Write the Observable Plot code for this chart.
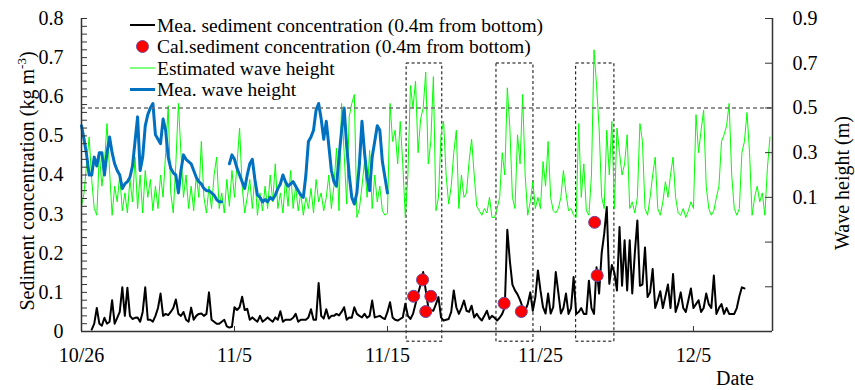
<!DOCTYPE html>
<html>
<head>
<meta charset="utf-8">
<script src="https://cdn.jsdelivr.net/npm/d3@7"></script>
<script src="https://cdn.jsdelivr.net/npm/@observablehq/plot@0.6"></script>
<style>
  body { margin: 0; background: #fff; }
</style>
</head>
<body>
<div id="chart"></div>
<script>
// ---- Data -------------------------------------------------------------
// Regular 4-hour records.
const stepHours = 4;

// Estimated wave height (m), from 10/26 00:00.
const estWaveStart = "2010-10-26T00:00Z";
const estWave = [
  0.06, 0.12, 0.25, 0.37, 0.18, 0.05,
  0.02, 0.30, 0.15, 0.25, 0.43, 0.22,
  0.02, 0.15, 0.08, 0.20, 0.04, 0.12,
  0.03, 0.18, 0.08, 0.28, 0.05, 0.20,
  0.03, 0.22, 0.10, 0.18, 0.04, 0.15,
  0.05, 0.20, 0.10, 0.30, 0.51, 0.12,
  0.03, 0.25, 0.52, 0.30, 0.10, 0.20,
  0.05, 0.15, 0.04, 0.20, 0.10, 0.35,
  0.10, 0.03, 0.15, 0.05, 0.20, 0.28,
  0.05, 0.12, 0.03, 0.18, 0.06, 0.22,
  0.10, 0.25, 0.41, 0.15, 0.03, 0.10,
  0.18, 0.05, 0.20, 0.02, 0.12, 0.04,
  0.15, 0.05, 0.20, 0.08, 0.25, 0.05,
  0.12, 0.03, 0.18, 0.06, 0.22, 0.05,
  0.15, 0.04, 0.12, 0.02, 0.10, 0.05,
  0.14, 0.03, 0.18, 0.08, 0.12, 0.04,
  0.10, 0.20, 0.05, 0.15, 0.32, 0.04,
  0.52, 0.30, 0.07, 0.46, 0.52, 0.56,
  0.01, 0.05, 0.15, 0.26, 0.10, 0.31,
  0.05, 0.20, 0.08, 0.15, 0.04, 0.02,
  0.03, 0.52, 0.35, 0.40, 0.25, 0.44,
  0.25, 0.01, 0.20, 0.60, 0.50, 0.62,
  0.30, 0.45, 0.50, 0.66, 0.25, 0.35,
  0.64, 0.04, 0.10, 0.38, 0.44, 0.20,
  0.07, 0.15, 0.30, 0.40, 0.05, 0.20,
  0.10, 0.12, 0.26, 0.36, 0.20, 0.06,
  0.04, 0.02, 0.05, 0.03, 0.10, 0.01,
  0.01, 0.05, 0.10, 0.30, 0.20, 0.59,
  0.41, 0.10, 0.05, 0.38, 0.25, 0.56,
  0.20, 0.02, 0.08, 0.17, 0.05, 0.10,
  0.05, 0.26, 0.15, 0.35, 0.10, 0.04,
  0.03, 0.05, 0.10, 0.22, 0.12, 0.04,
  0.05, 0.02, 0.01, 0.43, 0.10, 0.25,
  0.04, 0.02, 0.20, 0.76, 0.60, 0.41,
  0.10, 0.05, 0.40, 0.20, 0.44, 0.05,
  0.41, 0.30, 0.20, 0.25, 0.38, 0.05,
  0.08, 0.03, 0.10, 0.43, 0.35, 0.05,
  0.02, 0.10, 0.20, 0.28, 0.05, 0.02,
  0.08, 0.17, 0.10, 0.20, 0.28, 0.10,
  0.03, 0.02, 0.05, 0.01, 0.04, 0.08,
  0.05, 0.47, 0.30, 0.40, 0.49, 0.15,
  0.05, 0.02, 0.04, 0.10, 0.15, 0.35,
  0.38, 0.42, 0.52, 0.20, 0.05, 0.02,
  0.05, 0.30, 0.35, 0.48, 0.30, 0.02,
  0.10, 0.15, 0.08, 0.12, 0.02, 0.23,
  0.37
];

// Measured wave height (m), from 10/26 00:00; null = no record.
const meaWaveStart = "2010-10-26T00:00Z";
const meaWave = [
  0.42, 0.36, 0.29, 0.20, 0.20, 0.28,
  0.24, 0.30, 0.30, 0.20, 0.30, 0.37,
  0.30, 0.25, 0.22, 0.20, 0.14, 0.16,
  0.17, 0.19, 0.24, 0.35, 0.46, 0.22,
  0.28, 0.42, 0.47, 0.50, 0.52, 0.38,
  0.36, 0.34, 0.45, 0.40, 0.28, 0.23,
  0.21, 0.20, 0.12, 0.22, 0.29, 0.27,
  0.26, 0.25, 0.22, 0.19, 0.17, 0.16,
  0.14, 0.13, 0.13, 0.12, 0.11, 0.09,
  0.08, 0.08, null, null, 0.25, 0.29,
  0.27, 0.23, 0.20, 0.17, 0.14, 0.20,
  0.25, 0.27, 0.18, 0.11, 0.10, 0.08,
  0.09, 0.08, 0.10, 0.09, 0.11, 0.14,
  0.16, 0.20, 0.17, 0.15, 0.16, 0.17,
  0.15, 0.13, 0.11, 0.10, 0.20, 0.35,
  0.37, 0.40, 0.49, 0.52, 0.45, 0.36,
  0.44, 0.33, 0.22, 0.17, 0.15, 0.28,
  0.40, 0.50, 0.33, 0.20, 0.10, 0.07,
  0.12, 0.25, 0.44, 0.30, 0.19, 0.13,
  0.28, 0.35, 0.42, 0.40, 0.26, 0.19,
  0.12
];

// Measured sediment concentration (kg m-3), 0.4 m above bottom, from 10/26 16:00.
const meaSedStart = "2010-10-26T16:00Z";
const meaSed = [
  0.005, 0.020,
  0.060, 0.020, 0.015, 0.035, 0.020, 0.025,
  0.080, 0.020, 0.035, 0.050, 0.113, 0.040,
  0.112, 0.040, 0.032, 0.035, 0.036, 0.025,
  0.050, 0.113, 0.030, 0.030, 0.025, 0.040,
  0.060, 0.097, 0.040, 0.045, 0.042, 0.050,
  0.060, 0.082, 0.045, 0.040, 0.050, 0.030,
  0.025, 0.061, 0.030, 0.040, 0.045, 0.046,
  0.040, 0.045, 0.100, 0.030, 0.025, 0.020,
  0.020, 0.025, 0.030, 0.013, 0.010, 0.012,
  0.062, 0.055, 0.062, 0.089, 0.055, 0.058,
  0.030, 0.036, 0.030, 0.025, 0.040, 0.025,
  0.030, 0.036, 0.030, 0.025, 0.036, 0.030,
  0.052, 0.025, 0.030, 0.030, 0.030, 0.035,
  0.045, 0.025, 0.030, 0.030, 0.030, 0.036,
  0.057, 0.030, 0.030, 0.124, 0.040, 0.033,
  0.057, 0.033, 0.040, 0.040, 0.045, 0.041,
  0.050, 0.062, 0.030, 0.036, 0.035, 0.062,
  0.045, 0.040, 0.036, 0.045, 0.035, 0.040,
  0.079, 0.036, 0.038, 0.040, 0.035, 0.032,
  0.050, 0.075, 0.036, 0.030, 0.028, 0.032,
  0.036, 0.071, 0.040, 0.032, 0.045, 0.070,
  0.097, 0.120, 0.152, 0.105, 0.062, 0.055,
  0.053, 0.070, 0.088, 0.036, 0.028, 0.030,
  0.032, 0.050, 0.105, 0.062, 0.045, 0.060,
  0.079, 0.053, 0.050, 0.066, 0.036, 0.045,
  0.035, 0.028, 0.040, 0.053, 0.032, 0.040,
  0.035, 0.028, 0.035, 0.045, 0.062, 0.260,
  0.180, 0.120, 0.105, 0.095, 0.080, 0.062,
  0.053, 0.070, 0.100, 0.053, 0.088, 0.156,
  0.105, 0.062, 0.046, 0.097, 0.046, 0.062,
  0.152, 0.100, 0.046, 0.060, 0.097, 0.045,
  0.060, 0.139, 0.045, 0.050, 0.060, 0.045,
  0.045, 0.130, 0.060, 0.045, 0.164, 0.097,
  0.200, 0.250, 0.318, 0.122, 0.170, 0.150,
  0.105, 0.267, 0.117, 0.233, 0.105, 0.233,
  0.097, 0.200, 0.284, 0.117, 0.120, 0.215,
  0.088, 0.100, 0.160, 0.060, 0.080, 0.103,
  0.060, 0.090, 0.120, 0.060, 0.147, 0.050,
  0.070, 0.100, 0.060, 0.050, 0.080, 0.110,
  0.060, 0.070, 0.080, 0.050, 0.060, 0.097,
  0.070, 0.060, 0.143, 0.045, 0.060, 0.070,
  0.045, 0.060, 0.045, 0.045, 0.045, 0.060,
  0.090, 0.113, 0.110
];

// Calculated sediment concentration (kg m-3).
const calTimes = [
  "2010-11-16T17:00Z", "2010-11-17T07:00Z", "2010-11-17T12:00Z", "2010-11-17T20:00Z",
  "2010-11-22T15:00Z", "2010-11-23T18:00Z", "2010-11-28T13:00Z", "2010-11-28T17:00Z"
];
const calSed = [0.090, 0.132, 0.051, 0.090, 0.072, 0.051, 0.279, 0.143];

// Storm windows outlined with dashed boxes.
const boxStart = ["2010-11-16T06:00Z", "2010-11-22T03:00Z", "2010-11-27T08:00Z"];
const boxEnd   = ["2010-11-18T14:00Z", "2010-11-24T13:00Z", "2010-11-29T20:00Z"];
const boxTop = 0.685;
const boxBottom = -0.026;

// Reference wave height (m) drawn as a dashed line.
const waveThreshold = 0.5;

// Axes.
const xDomain = ["2010-10-26T00:00Z", "2010-12-10T04:00Z"];
const dateTicks = ["2010-10-26", "2010-11-05", "2010-11-15", "2010-11-25", "2010-12-05"];
const concDomain = [0, 0.8];
const concTicks = [0, 0.1, 0.2, 0.3, 0.4, 0.5, 0.6, 0.7, 0.8];
const concMinorStep = 0.02;
const waveDomain = [-0.5, 0.9];
const waveTicks = [0.9, 0.7, 0.5, 0.3, 0.1, -0.1, -0.3, -0.5];
const waveTickLabels = [0.9, 0.7, 0.5, 0.3, 0.1];

const legendLabels = [
  "Mea. sediment concentration (0.4m from bottom)",
  "Cal.sediment concentration (0.4m from bottom)",
  "Estimated wave height",
  "Mea. wave height"
];

// ---- Helpers ----------------------------------------------------------
const HOUR = 3600e3;
const series = (start, values) =>
  values.map((v, i) => ({date: new Date(+new Date(start) + i * stepHours * HOUR), value: v}));

// Wave height shares the frame with concentration on its own (right-hand) scale.
const waveToConc = h =>
  concDomain[0] + (h - waveDomain[0]) / (waveDomain[1] - waveDomain[0]) * (concDomain[1] - concDomain[0]);
const concToWave = c =>
  waveDomain[0] + (c - concDomain[0]) / (concDomain[1] - concDomain[0]) * (waveDomain[1] - waveDomain[0]);

const est = series(estWaveStart, estWave);
const mea = series(meaWaveStart, meaWave);
const sed = series(meaSedStart, meaSed);
const cal = calTimes.map((t, i) => ({date: new Date(t), value: calSed[i]}));
const boxes = boxStart.map((s, i) => ({start: new Date(s), end: new Date(boxEnd[i]), top: boxTop, bottom: boxBottom}));
const xDates = xDomain.map(d => new Date(d));
const tickDates = dateTicks.map(d => new Date(d + "T00:00Z"));
const concMinor = d3.range(0, Math.round(concDomain[1] / concMinorStep) + 1).map(i => +(i * concMinorStep).toFixed(2));

// ---- Layout -----------------------------------------------------------
const W = 855, H = 390;
const mL = 81, mR = 83, mT = 18, mB = 59;
const plotW = W - mL - mR, plotH = H - mT - mB;
const axisColor = "#333";
const font = "'Liberation Serif', 'Times New Roman', serif";

const chart = Plot.plot({
  width: W,
  height: H,
  marginLeft: mL,
  marginRight: mR,
  marginTop: mT,
  marginBottom: mB,
  style: {fontFamily: font, fontSize: "20px", color: "#000", background: "#fff", overflow: "visible"},
  x: {type: "utc", domain: xDates, label: null},
  y: {domain: concDomain, label: null},
  marks: [
    Plot.rect(boxes, {x1: "start", x2: "end", y1: "bottom", y2: "top", fill: "none", stroke: "#000", strokeWidth: 1, strokeDasharray: "3,2.5"}),
    Plot.line(est, {x: "date", y: d => waveToConc(d.value), stroke: "#00ff00", strokeWidth: 1}),
    Plot.line(mea, {x: "date", y: d => (d.value == null ? NaN : waveToConc(d.value)), stroke: "#0070c0", strokeWidth: 3, strokeLinejoin: "round"}),
    Plot.line(sed, {x: "date", y: "value", stroke: "#000", strokeWidth: 2, strokeLinejoin: "round"}),
    Plot.ruleY([waveToConc(waveThreshold)], {stroke: "#707070", strokeWidth: 1.5, strokeDasharray: "4,3"}),
    Plot.dot(cal, {x: "date", y: "value", r: 6, fill: "#ff0000", stroke: "#6b4a9e", strokeWidth: 1}),
    // frame: left, right and bottom only
    Plot.ruleX(xDates, {stroke: axisColor, strokeWidth: 1.5}),
    Plot.ruleY([concDomain[0]], {stroke: axisColor, strokeWidth: 1.5}),
    // inward tick marks
    Plot.tickY(concMinor, {y: d => d, insetRight: plotW - 6, stroke: axisColor}),
    Plot.tickY(waveTicks, {y: d => waveToConc(d), insetLeft: plotW - 7, stroke: axisColor}),
    Plot.tickX(tickDates, {x: d => d, insetTop: plotH - 5, stroke: axisColor}),
    // tick labels
    Plot.axisY(concTicks, {anchor: "left", tickSize: 0, tickPadding: 18, tickFormat: d => String(+d.toFixed(1)), fontSize: 20, label: null}),
    Plot.axisY(waveTickLabels.map(waveToConc), {anchor: "right", tickSize: 0, tickPadding: 20, tickFormat: c => concToWave(c).toFixed(1), fontSize: 20, label: null}),
    Plot.axisX(tickDates, {anchor: "bottom", tickSize: 0, tickPadding: 16, tickFormat: d3.utcFormat("%-m/%-d"), fontSize: 20, label: null})
  ]
});

document.getElementById("chart").appendChild(chart);

// ---- Titles and legend ------------------------------------------------
const svg = d3.select(chart);

const leftTitle = svg.append("text")
  .attr("transform", "translate(27,181) rotate(-90)")
  .attr("text-anchor", "middle")
  .attr("dy", "0.35em")
  .attr("font-family", font)
  .attr("font-size", 20)
  .attr("fill", "#000");
leftTitle.append("tspan").text("Sediment concentration (kg m");
leftTitle.append("tspan").attr("dy", -8).attr("font-size", 13).text("-3");
leftTitle.append("tspan").attr("dy", 8).text(")");

svg.append("text")
  .attr("transform", "translate(842,183) rotate(-90)")
  .attr("text-anchor", "middle")
  .attr("dy", "0.35em")
  .attr("font-family", font)
  .attr("font-size", 20)
  .attr("fill", "#000")
  .text("Wave height (m)");

svg.append("text")
  .attr("x", 735)
  .attr("y", 378)
  .attr("text-anchor", "middle")
  .attr("dy", "0.35em")
  .attr("font-family", font)
  .attr("font-size", 20)
  .attr("fill", "#000")
  .text("Date");

const legend = svg.append("g")
  .attr("font-family", font)
  .attr("font-size", 19.5)
  .attr("text-anchor", "start")
  .attr("fill", "#000");
const rowY = i => 25 + i * 21.5;
const keyX1 = 130, keyX2 = 155, textX = 157;

legend.append("line").attr("x1", keyX1).attr("x2", keyX2).attr("y1", rowY(0)).attr("y2", rowY(0))
  .attr("stroke", "#000").attr("stroke-width", 2);
legend.append("circle").attr("cx", (keyX1 + keyX2) / 2).attr("cy", rowY(1)).attr("r", 6)
  .attr("fill", "#ff0000").attr("stroke", "#6b4a9e").attr("stroke-width", 1);
legend.append("line").attr("x1", keyX1).attr("x2", keyX2).attr("y1", rowY(2)).attr("y2", rowY(2))
  .attr("stroke", "#00ff00").attr("stroke-width", 1);
legend.append("line").attr("x1", keyX1).attr("x2", keyX2).attr("y1", rowY(3)).attr("y2", rowY(3))
  .attr("stroke", "#0070c0").attr("stroke-width", 3);

legendLabels.forEach((label, i) => {
  legend.append("text").attr("x", textX).attr("y", rowY(i)).attr("dy", "0.35em")
    .attr("text-anchor", "start").text(label);
});
</script>
</body>
</html>
